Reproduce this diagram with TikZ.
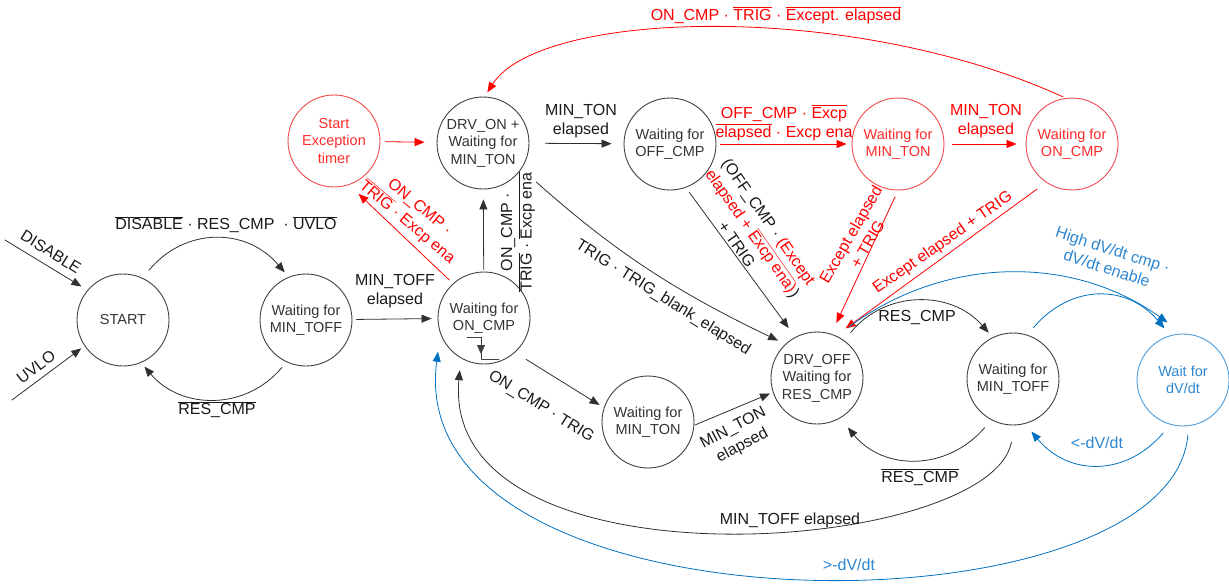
\documentclass[tikz,border=0pt]{standalone}
\usepackage{fontspec}
\setmainfont{Liberation Sans}
\usetikzlibrary{arrows.meta}
\definecolor{stgray}{HTML}{404040}
\definecolor{sttext}{HTML}{333333}
\definecolor{trgray}{HTML}{303030}
\definecolor{lbltext}{HTML}{1A1A1A}
\definecolor{exred}{HTML}{FF0000}
\definecolor{exredlt}{HTML}{F04B4B}
\definecolor{exredtx}{HTML}{FF2A2A}
\definecolor{dvblue}{HTML}{0070C0}
\definecolor{dvbluelt}{HTML}{4A9BDB}
\definecolor{dvbluetx}{HTML}{2E86D0}
\newcommand{\ovl}[1]{$\overline{\mbox{#1}}$}
\begin{document}
\begin{tikzpicture}[x=1pt, y=1pt, line join=round, line cap=round,
  >={Triangle[length=10pt, width=8pt]},
  stat/.style={circle, draw=stgray, line width=.9pt, minimum size=92pt, inner sep=0pt,
    align=center, text=sttext, font=\fontsize{14.5}{17.5}\selectfont},
  redstat/.style={stat, draw=exredlt, text=exredtx},
  bluestat/.style={stat, draw=dvbluelt, text=dvbluetx},
  trans/.style={color=trgray, line width=.8pt, ->},
  redtrans/.style={trans, color=exred},
  bluetrans/.style={trans, color=dvblue},
  lbl/.style={inner sep=0pt, align=center, text=lbltext, font=\fontsize{16}{19.5}\selectfont},
  redlbl/.style={lbl, text=exred},
  bluelbl/.style={lbl, text=dvbluetx}]
\useasboundingbox (0,0) rectangle (1229,-586);

% states
\node[stat] (start) at (123,-320) {START};
\node[stat] (mintoffA) at (306,-320) {Waiting for\\MIN\_TOFF};
\node[stat] (oncmp) at (484,-318) {Waiting for\\ON\_CMP};
\node[stat] (drvon) at (483,-143) {DRV\_ON +\\Waiting for\\MIN\_TON};
\node[redstat] (exctimer) at (334,-141) {Start\\Exception\\timer};
\node[stat] (offcmp) at (670,-144) {Waiting for\\OFF\_CMP};
\node[redstat] (mintonR) at (898,-144) {Waiting for\\MIN\_TON};
\node[redstat] (oncmpR) at (1072,-144) {Waiting for\\ON\_CMP};
\node[stat] (mintonB) at (648,-422) {Waiting for\\MIN\_TON};
\node[stat] (drvoff) at (817,-378) {DRV\_OFF\\Waiting for\\RES\_CMP};
\node[stat] (mintoffB) at (1013,-379) {Waiting for\\MIN\_TOFF};
\node[bluestat] (waitdv) at (1183,-380) {Wait for\\dV/dt};

% falling edge mark
\draw[color=stgray, line width=.8pt] (467,-337) -- (481,-337) -- (481,-359) -- (499,-359);
\draw[color=stgray, line width=.8pt, -{Triangle[length=9pt, width=8pt]}] (481,-337) -- (481,-354);

\coordinate (disA) at (5,-240);
\coordinate (uvA) at (12,-400);

% black transitions
\draw[trans, shorten >=7pt] (disA) -- (start.140);
\draw[trans, shorten >=4pt] (uvA) -- (start.214);
\draw[trans, shorten <=10pt, shorten >=6pt] (start.65) to[bend left=50, looseness=1.15] (mintoffA.112);
\draw[trans, shorten <=7pt, shorten >=5pt] (mintoffA.245) to[bend left=50, looseness=1.1] (start.293);
\draw[trans, shorten <=4pt, shorten >=6pt] (mintoffA) -- (oncmp);
\draw[trans, shorten <=2pt, shorten >=10pt] (oncmp) -- (drvon);
\draw[trans, shorten <=16pt, shorten >=12pt] (drvon) -- (offcmp);
\draw[trans, shorten <=6pt, shorten >=11pt] (offcmp.290) -- (drvoff.118);
\draw[trans, shorten <=20pt, shorten >=8pt] (drvon.326) to[bend right=8] (drvoff.133);
\draw[trans, shorten <=13pt, shorten >=5pt] (oncmp.-48) -- (mintonB.162);
\draw[trans, shorten <=1pt, shorten >=3pt] (mintonB.-4) -- (drvoff.198);
\draw[trans, shorten <=10pt, shorten >=6pt] (drvoff.54) to[bend left=50, looseness=1.1] (mintoffB.116);
\draw[trans, shorten <=10pt, shorten >=12pt] (mintoffB.242) to[bend left=50, looseness=1.15] (drvoff.300);
\draw[trans, shorten <=17pt, shorten >=12pt] (mintoffB.272) .. controls (990,-555) and (440,-595) .. (oncmp.240);

% red transitions
\draw[redtrans, shorten <=5pt, shorten >=12pt] (exctimer) -- (drvon);
\draw[redtrans, shorten <=5pt, shorten >=13pt] (oncmp.132) -- (exctimer.289);
\draw[redtrans, shorten <=4pt, shorten >=5pt] (offcmp) -- (mintonR);
\draw[redtrans, shorten <=8pt, shorten >=9pt] (mintonR) -- (oncmpR);
\draw[redtrans, shorten <=7pt, shorten >=12pt] (mintonR.270) -- (drvoff.72);
\draw[redtrans, shorten <=11pt, shorten >=12pt] (oncmpR.236) -- (drvoff.66);
\draw[redtrans, shorten <=3pt, shorten >=5pt] (oncmpR.98) .. controls (850,0) and (540,-10) .. (drvon.88);

% blue transitions
\draw[bluetrans, shorten <=15pt, shorten >=19pt] (drvoff.65) to[bend left=36] (waitdv.90);
\draw[bluetrans, shorten <=9pt, shorten >=9pt] (mintoffB.72) to[bend left=50, looseness=1.2] (waitdv.106);
\draw[bluetrans, shorten <=11pt, shorten >=10pt] (waitdv.254) to[bend left=50, looseness=1.2] (mintoffB.285);
\draw[bluetrans, shorten <=9pt, shorten >=18pt] (waitdv.277) .. controls (1170,-640) and (400,-640) .. (oncmp.200);

% labels
\node[lbl, rotate=-32] (lDis) at (51,-252) {DISABLE};
\node[lbl, rotate=37] (lUv) at (36,-367) {UVLO};
\node[lbl] (lStart) at (226,-225) {\ovl{DISABLE} · RES\_CMP \ · \ovl{UVLO}};
\node[lbl] (lRes) at (217,-410) {\ovl{RES\_CMP}};
\node[lbl] (lToffA) at (395,-291) {MIN\_TOFF\\elapsed};
\node[lbl, rotate=90] (lOnUp) at (518,-232) {ON\_CMP ·\\\ovl{TRIG} · \ovl{Excp ena}};
\node[lbl] (lTonA) at (581,-121) {MIN\_TON\\elapsed};
\node[lbl, rotate=-55] (lOff) at (753,-233) {(OFF\_CMP · \textcolor{exred}{(Except}\\\textcolor{exred}{elapsed + \ovl{Excp ena})})\\+ TRIG};
\node[lbl, rotate=-32] (lBlank) at (663,-298) {TRIG · TRIG\_blank\_elapsed};
\node[lbl, rotate=-32] (lOnTrig) at (541,-407) {ON\_CMP · TRIG};
\node[lbl, rotate=28] (lTonB) at (738,-437) {MIN\_TON\\elapsed};
\node[lbl] (lResT) at (917,-318) {RES\_CMP};
\node[lbl] (lResB) at (920,-477) {\ovl{RES\_CMP}};
\node[lbl] (lToffB) at (790,-520) {MIN\_TOFF elapsed};
\node[redlbl, rotate=-40] (lExc) at (413,-215) {ON\_CMP ·\\\ovl{TRIG} · Excp ena};
\node[redlbl] (lOffR) at (784,-123) {OFF\_CMP · \ovl{Excp}\\\ovl{elapsed} · Excp ena};
\node[redlbl] (lTonR) at (986,-121) {MIN\_TON\\elapsed};
\node[redlbl, rotate=60] (lExcA) at (859,-239) {Except elapsed\\+ TRIG};
\node[redlbl, rotate=35] (lExcB) at (943,-243) {Except elapsed + TRIG};
\node[redlbl] (lTop) at (776,-15) {ON\_CMP · \ovl{TRIG} · \ovl{Except. elapsed}};
\node[bluelbl, rotate=-18] (lHigh) at (1110,-259) {High dV/dt cmp ·\\dV/dt enable};
\node[bluelbl] (lLow) at (1097,-443) {<-dV/dt};
\node[bluelbl] (lGt) at (849,-565) {>-dV/dt};
\end{tikzpicture}
\end{document}
